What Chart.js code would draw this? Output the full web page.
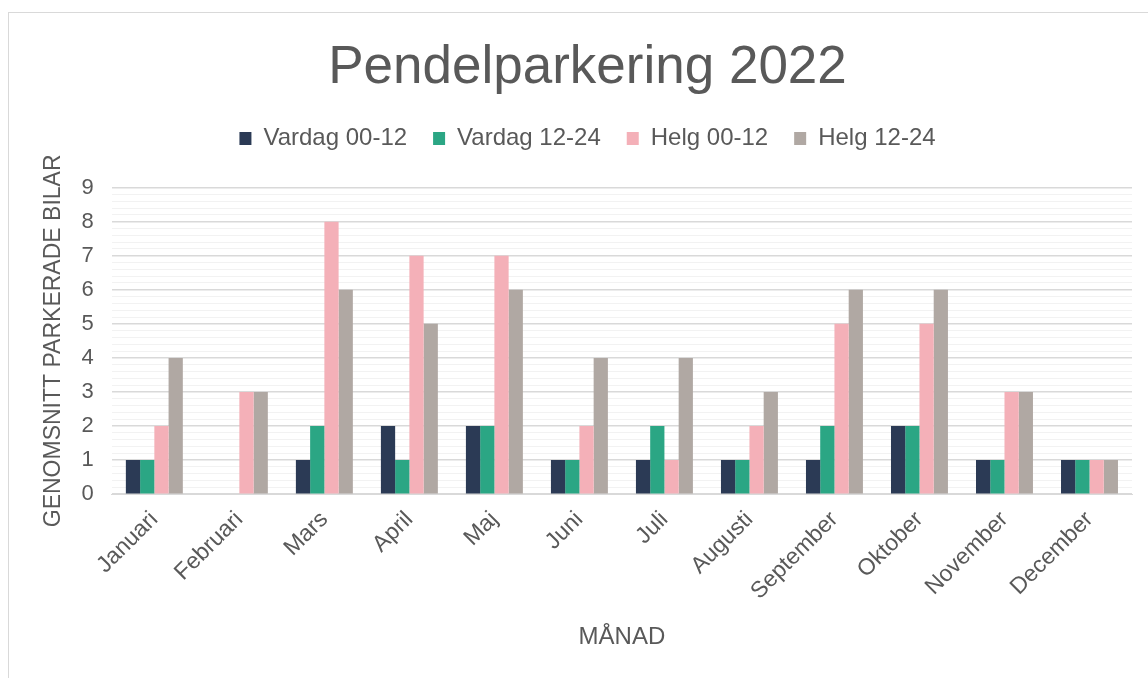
<!DOCTYPE html>
<html>
	<head>
		<title>Pendelparkering 2022</title>
		<style>
body {
	margin: 0;
	background-color: #ffffff;
	overflow: hidden;
}
	.frame {
		position: absolute;
		left: 8px;
		top: 12px;
		width: 1160px;
		height: 680px;
		border: 1px solid #d9d9d9;
		background-color: #ffffff;
	}
		</style>
	</head>
	<body>
		<div class="frame">
			<canvas id="barChart" width="1160" height="680"></canvas>
		</div>

		<script src="https://cdn.jsdelivr.net/npm/chart.js"></script>
		<script>
			// Data
			const months = ['Januari', 'Februari', 'Mars', 'April', 'Maj', 'Juni', 'Juli', 'Augusti', 'September', 'Oktober', 'November', 'December'];
			const vardag0012 = [1, 0, 1, 2, 2, 1, 1, 1, 1, 2, 1, 1];
			const vardag1224 = [1, 0, 2, 1, 2, 1, 2, 1, 2, 2, 1, 1];
			const helg0012 = [2, 3, 8, 7, 7, 2, 1, 2, 5, 5, 3, 1];
			const helg1224 = [4, 3, 6, 5, 6, 4, 4, 3, 6, 6, 3, 1];
			const seriesNames = ['Vardag 00-12', 'Vardag 12-24', 'Helg 00-12', 'Helg 12-24'];
			const seriesColors = ['#2b3a55', '#2ba684', '#f4b0b8', '#b0a8a3'];

			const textColor = '#595959';
			const fontFamily = '"Liberation Sans", Arial, sans-serif';

			const isMajor = v => Math.abs(v - Math.round(v)) < 1e-6;

			// extra room between the legend and the plot
			const legendGap = {
				id: 'legendGap',
				beforeInit(chart) {
					const fit = chart.legend.fit;
					chart.legend.fit = function () {
						fit.call(this);
						this.height += 27;
					};
				}
			};

			const ctx = document.getElementById('barChart').getContext('2d');
			const barChart = new Chart(ctx, {
				type: 'bar',
				data: {
					labels: months,
					datasets: [vardag0012, vardag1224, helg0012, helg1224].map((values, i) => ({
						label: seriesNames[i],
						data: values,
						backgroundColor: seriesColors[i],
						borderWidth: 0,
						barPercentage: 1,
						categoryPercentage: 0.67
					}))
				},
				plugins: [legendGap],
				options: {
					responsive: false,
					animation: false,
					layout: {
						padding: { left: 34, right: 37, top: 10, bottom: 41 }
					},
					plugins: {
						title: {
							display: true,
							text: 'Pendelparkering 2022',
							color: textColor,
							font: { family: fontFamily, size: 53, weight: 'normal' },
							padding: { top: 14, bottom: 0 }
						},
						legend: {
							position: 'top',
							labels: {
								color: textColor,
								font: { family: fontFamily, size: 24 },
								boxWidth: 12,
								boxHeight: 13,
								padding: 26
							}
						},
						tooltip: { enabled: false }
					},
					scales: {
						x: {
							grid: { display: false },
							border: { display: true, color: '#d9d9d9' },
							ticks: {
								color: textColor,
								font: { family: fontFamily, size: 23 },
								maxRotation: 45,
								minRotation: 45,
								padding: 4
							},
							title: {
								display: true,
								text: 'MÅNAD',
								color: textColor,
								font: { family: fontFamily, size: 24 },
								padding: { top: 14, bottom: 0 }
							}
						},
						y: {
							min: 0,
							max: 9,
							border: { display: false },
							grid: {
								color: c => isMajor(c.tick.value) ? '#d9d9d9' : '#f2f2f2',
								lineWidth: c => isMajor(c.tick.value) ? 1.5 : 1,
								drawTicks: false
							},
							ticks: {
								stepSize: 0.2,
								autoSkip: false,
								color: textColor,
								font: { family: fontFamily, size: 22 },
								padding: 18,
								callback: v => isMajor(v) ? String(Math.round(v)) : ''
							},
							title: {
								display: true,
								text: 'GENOMSNITT PARKERADE BILAR',
								color: textColor,
								font: { family: fontFamily, size: 23 },
								padding: { top: -3, bottom: -4 }
							}
						}
					}
				}
			});
		</script>
	</body>
</html>
